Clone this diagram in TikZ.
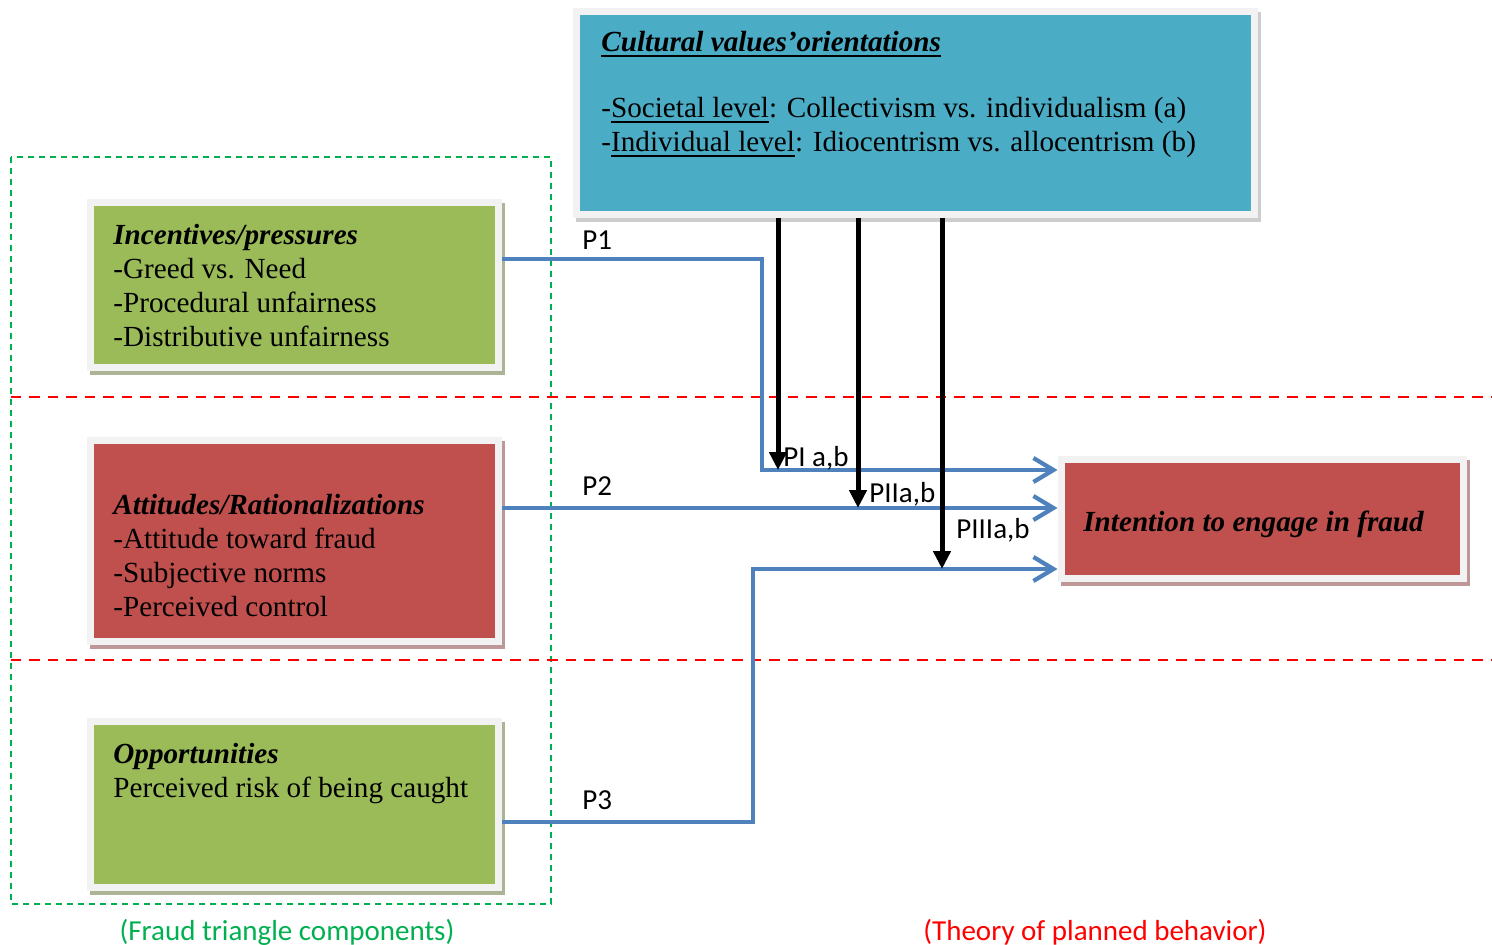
\documentclass[tikz,border=0pt]{standalone}
\usepackage{fontspec}
\setmainfont{Liberation Serif}
\setsansfont{Carlito}
\usetikzlibrary{arrows.meta,positioning}
\definecolor{boxgreen}{RGB}{155,187,89}
\definecolor{boxred}{RGB}{192,80,77}
\definecolor{boxblue}{RGB}{75,172,198}
\definecolor{framegray}{RGB}{242,242,242}
\definecolor{greenshade}{RGB}{172,180,150}
\definecolor{redshade}{RGB}{190,152,152}
\definecolor{blueshade}{RGB}{205,205,205}
\definecolor{linkblue}{RGB}{79,129,189}
\definecolor{triangreen}{RGB}{0,176,80}
\definecolor{tpbred}{RGB}{255,0,0}
\newcommand{\undl}[2]{\setbox0\hbox{#2}\rlap{\rule[-3.2pt]{\wd0}{#1}}\box0}
\begin{document}
\begin{tikzpicture}[x=0.02cm,y=-0.02cm,line join=miter,
	cardbox/.style={draw=framegray,line width=1.4mm,inner sep=0pt,
		preaction={draw=#1,fill=#1,line width=1.4mm,transform canvas={shift={(0.6mm,-0.8mm)}}}},
	greenbox/.style={cardbox=greenshade,fill=boxgreen},
	redbox/.style={cardbox=redshade,fill=boxred},
	bluebox/.style={cardbox=blueshade,fill=boxblue},
	boxtext/.style={inner sep=0pt,align=left,font=\fontsize{16.6}{19.3}\selectfont},
	plabel/.style={inner sep=0pt,anchor=base west,font=\sffamily\fontsize{16.5}{19}\selectfont},
	pline/.style={draw=linkblue,line width=0.85mm,-{Straight Barb[length=4mm,width=4.8mm]}},
	carrow/.style={draw=black,line width=1mm,-{Triangle[length=3.6mm,width=3.4mm]}},
	zone/.style={line width=0.5mm}]
\useasboundingbox (0,0) rectangle (1492,945);
\draw[zone,triangreen,dash pattern=on 1.2mm off 1mm] (11,157) rectangle (551,904);
\draw[zone,tpbred,dash pattern=on 2.1mm off 1.6mm] (11,397) -- (1492,397) (11,660) -- (1492,660);

\node[greenbox,minimum width=8.18cm,minimum height=3.3cm] (inc) at (294.5,285) {};
\node[redbox,minimum width=8.18cm,minimum height=4.02cm,below=1.33cm of inc] (att) {};
\node[greenbox,minimum width=8.18cm,minimum height=3.32cm,below=1.46cm of att] (opp) {};
\node[bluebox,minimum width=13.58cm,minimum height=4.06cm] (cv) at (915.5,113) {};
\node[redbox,minimum width=8.05cm,minimum height=2.4cm] (int) at (1262.25,519) {};

\node[boxtext,anchor=north west] (incT) at ([shift={(26.5,25)}]inc.north west)
	{\textbf{\textit{Incentives/pressures}}\\-Greed vs. Need\\-Procedural unfairness\\-Distributive unfairness};
\node[boxtext,anchor=north west] (attT) at ([shift={(26.5,56.5)}]att.north west)
	{\textbf{\textit{Attitudes/Rationalizations}}\\-Attitude toward fraud\\-Subjective norms\\-Perceived control};
\node[boxtext,anchor=north west] (oppT) at ([shift={(26.5,24.5)}]opp.north west)
	{\textbf{\textit{Opportunities}}\\Perceived risk of being caught};
\node[boxtext,anchor=north west] (cvT) at ([shift={(28.5,23)}]cv.north west)
	{\undl{1.4pt}{\textbf{\textit{Cultural values'orientations}}}\\[18pt]
	-\undl{0.9pt}{Societal level}: Collectivism vs. individualism (a)\\
	-\undl{0.9pt}{Individual level}: Idiocentrism vs. allocentrism (b)};
\node[boxtext,anchor=base west] (intT) at ([shift={(25.5,13)}]int.west)
	{\textbf{\textit{Intention to engage in fraud}}};

\coordinate (k1) at (762,259);
\coordinate (k3) at (753,822);
\draw[pline] (inc.east |- k1) -- (k1) |- (int.west |- 0,470);
\draw[pline] (att.east |- 0,508) -- (int.west |- 0,508);
\draw[pline] (opp.east |- k3) -- (k3) |- (int.west |- 0,569);

\coordinate (t1) at (778,470);
\coordinate (t2) at (858,508);
\coordinate (t3) at (942,569);
\draw[carrow] (cv.south -| t1) -- (t1);
\draw[carrow] (cv.south -| t2) -- (t2);
\draw[carrow] (cv.south -| t3) -- (t3);

\node[plabel] (p1) at (582,250) {P1};
\node[plabel] (p2) at (582,496) {P2};
\node[plabel] (p3) at (582,809) {P3};
\node[plabel] (m1) at (783,467) {PI a,b};
\node[plabel] (m2) at (869,503) {PIIa,b};
\node[plabel] (m3) at (956,539) {PIIIa,b};

\node[plabel,anchor=base,text=triangreen] (ftc) at (287,940) {(Fraud triangle components)};
\node[plabel,anchor=base,text=tpbred] (tpb) at (1095,940) {(Theory of planned behavior)};
\end{tikzpicture}
\end{document}
